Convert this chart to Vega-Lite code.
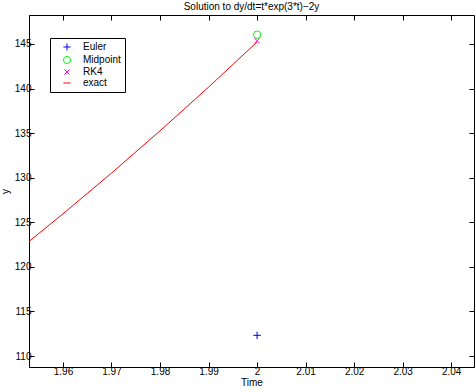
{
  "$schema": "https://vega.github.io/schema/vega-lite/v6.json",
  "width": 445,
  "height": 352,
  "autosize": "none",
  "padding": {"left": 29, "top": 15, "right": 2, "bottom": 25},
  "background": "white",
  "title": {"text": "Solution to dy/dt=t*exp(3*t)−2y", "fontSize": 10, "fontWeight": "normal", "font": "Liberation Sans", "color": "black", "offset": 3},
  "config": {
    "view": {"stroke": "black", "strokeWidth": 1},
    "axis": {"grid": false, "domainColor": "black", "tickColor": "black", "labelColor": "black", "titleColor": "black", "labelFont": "Liberation Sans", "titleFont": "Liberation Sans", "labelFontSize": 10, "titleFontSize": 10, "titleFontWeight": "normal", "tickSize": -5, "labelPadding": 3},
    "legend": {"labelFont": "Liberation Sans", "labelFontSize": 10, "labelColor": "black"}
  },
  "data": {"values": [
    {"series": "exact", "t": 1.95, "y": 121.53},
    {"series": "exact", "t": 1.96, "y": 125.95},
    {"series": "exact", "t": 1.97, "y": 130.52},
    {"series": "exact", "t": 1.98, "y": 135.26},
    {"series": "exact", "t": 1.99, "y": 140.16},
    {"series": "exact", "t": 2.0, "y": 145.23},
    {"series": "Euler", "t": 2.0, "y": 112.32},
    {"series": "Midpoint", "t": 2.0, "y": 146.04},
    {"series": "RK4", "t": 2.0, "y": 145.37}
  ]},
  "resolve": {"axis": {"x": "independent", "y": "independent"}},
  "layer": [
    {
      "transform": [{"filter": "datum.series === 'exact'"}],
      "mark": {"type": "line", "clip": true, "strokeWidth": 1},
      "encoding": {
        "x": {"field": "t", "type": "quantitative", "scale": {"domain": [1.953, 2.0447], "nice": false, "zero": false},
              "axis": {"orient": "bottom", "values": [1.96, 1.97, 1.98, 1.99, 2.0, 2.01, 2.02, 2.03, 2.04], "format": "~g", "title": "Time", "titlePadding": 1, "labelPadding": 4}},
        "y": {"field": "y", "type": "quantitative", "scale": {"domain": [108.77, 148.25], "nice": false, "zero": false},
              "axis": {"orient": "left", "values": [110, 115, 120, 125, 130, 135, 140, 145], "title": "y", "titlePadding": 4}},
        "color": {"field": "series", "type": "nominal",
                  "scale": {"domain": ["Euler", "Midpoint", "RK4", "exact"], "range": ["#0000ff", "#00ff00", "#ff00ff", "#ff0000"]},
                  "legend": {"title": null, "orient": "none", "legendX": 21, "legendY": 23, "strokeColor": "black", "fillColor": "white", "padding": 4, "rowPadding": 1, "symbolSize": 50, "symbolStrokeWidth": 1, "symbolOpacity": 1, "symbolOffset": 8, "labelOffset": 11}}
      }
    },
    {
      "transform": [{"filter": "datum.series !== 'exact'"}],
      "mark": {"type": "point", "filled": false, "strokeWidth": 1, "size": 56, "opacity": 1, "clip": true},
      "encoding": {
        "x": {"field": "t", "type": "quantitative", "axis": null},
        "y": {"field": "y", "type": "quantitative", "axis": null},
        "color": {"field": "series", "type": "nominal"},
        "shape": {"field": "series", "type": "nominal",
                  "scale": {"domain": ["Euler", "Midpoint", "RK4", "exact"], "range": ["M-1,0L1,0M0,-1L0,1", "circle", "M-0.7,-0.7L0.7,0.7M-0.7,0.7L0.7,-0.7", "stroke"]}}
      }
    },
    {
      "transform": [{"filter": "datum.series === 'exact'"}],
      "mark": {"type": "point", "opacity": 0},
      "encoding": {
        "x": {"field": "t", "type": "quantitative", "axis": {"orient": "top", "values": [1.96, 1.97, 1.98, 1.99, 2.0, 2.01, 2.02, 2.03, 2.04], "labels": false, "title": null, "domain": false}},
        "y": {"field": "y", "type": "quantitative", "axis": {"orient": "right", "values": [110, 115, 120, 125, 130, 135, 140, 145], "labels": false, "title": null, "domain": false}}
      }
    }
  ]
}
